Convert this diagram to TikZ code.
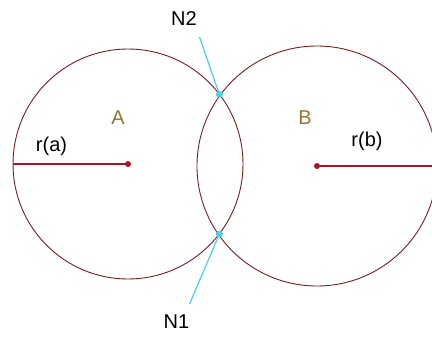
\documentclass[tikz,border=0pt]{standalone}
\usepackage{fontspec}
\setmainfont{Liberation Sans}
\usepackage{xcolor}
\usepackage{tikz}
\usetikzlibrary{calc}

\definecolor{ringred}{RGB}{120,30,30}
\definecolor{radred}{RGB}{170,20,35}
\definecolor{leadcyan}{RGB}{70,210,225}
\definecolor{namegold}{RGB}{150,118,45}

\begin{document}
\begin{tikzpicture}[x=1pt, y=-1pt, font=\fontsize{20}{24}\selectfont,
    ring/.style={draw=ringred, line width=0.9pt},
    radline/.style={draw=radred, line width=1.1pt},
    ctrdot/.style={circle, fill=radred, inner sep=0pt, minimum size=6pt},
    cutdot/.style={circle, fill=leadcyan, inner sep=0pt, minimum size=7pt},
    leader/.style={draw=leadcyan, line width=1.2pt}]
        \useasboundingbox (0,0) rectangle (432,338);
        \clip (0,0) rectangle (432,338);

        % Circles A and B
        \draw[ring] (128,164) circle[radius=115pt];
        \draw[ring] (317,166) circle[radius=120pt];

        % Radii
        \coordinate (edgeA) at (13,164);
        \coordinate (edgeB) at (440,166);
        \draw[radline] (edgeA) -- (128,164);
        \draw[radline] (317,166) -- (edgeB);
        \node[ctrdot] (ctrA) at (128,164) {};
        \node[ctrdot] (ctrB) at (317,166) {};

        \node (radA) at (51.5,146.5) {r(a)};
        \node (radB) at (367,141.5) {r(b)};
        \node[text=namegold] (nameA) at (118,117.5) {A};
        \node[text=namegold] (nameB) at (305,118) {B};

        % Intersection points with leaders
        \coordinate (tipN2) at (199.5,37);
        \coordinate (tipN1) at (189.5,304);
        \node[cutdot] (cutN2) at (219.4,94.5) {};
        \node[cutdot] (cutN1) at (219.4,234) {};
        \draw[leader] (tipN2) -- (cutN2.center);
        \draw[leader] (cutN1.center) -- (tipN1);

        \node (lblN2) at (184,18.5) {N2};
        \node (lblN1) at (176.5,322) {N1};
      \end{tikzpicture}
\end{document}
